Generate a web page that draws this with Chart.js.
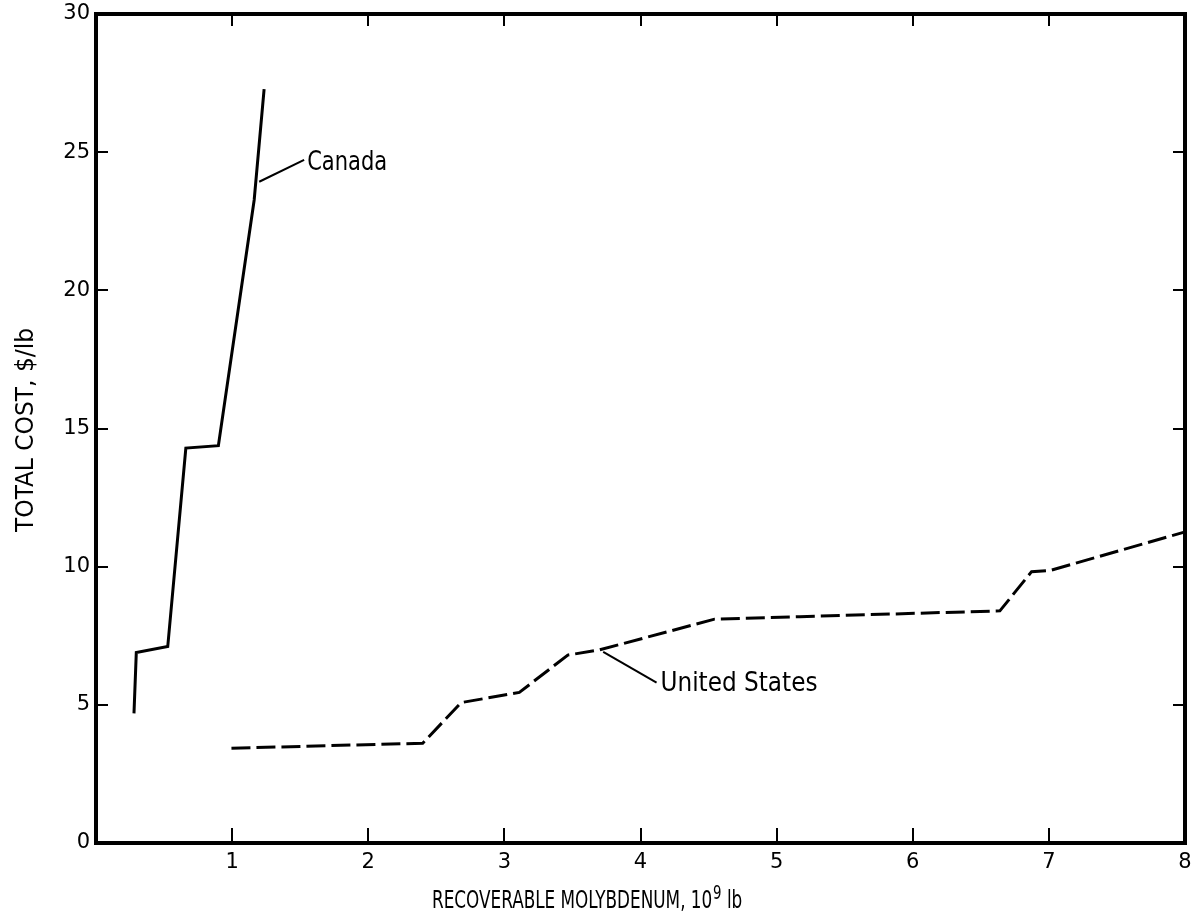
<!DOCTYPE html>
<html>
<head>
<meta charset="utf-8">
<script src="https://cdn.jsdelivr.net/npm/chart.js@4.4.1/dist/chart.umd.min.js"></script>
<style>
html,body{margin:0;padding:0;background:#fff;}
canvas{display:block;}
</style>
</head>
<body>
<canvas id="c" width="1192" height="913"></canvas>
<script>
// Cumulative recoverable molybdenum (10^9 lb) against total cost ($/lb)
const canadaX = [0.279, 0.296, 0.527, 0.660, 0.899, 1.162, 1.235];
const canadaY = [4.69, 6.89, 7.11, 14.29, 14.38, 23.27, 27.28];
const usX = [0.995, 2.40, 2.682, 3.11, 3.466, 3.70, 4.544, 5.17, 6.64, 6.873, 7.007, 7.995];
const usY = [3.43, 3.61, 5.08, 5.45, 6.80, 6.99, 8.10, 8.19, 8.40, 9.82, 9.86, 11.25];
const xTickValues = [1, 2, 3, 4, 5, 6, 7, 8];
const yTickValues = [0, 5, 10, 15, 20, 25, 30];
const seriesNames = ['Canada', 'United States'];
const xTitleParts = ['RECOVERABLE MOLYBDENUM, 10', '9', ' lb'];
const yTitle = 'TOTAL COST, $/lb';

const toPoints = (xs, ys) => xs.map((x, i) => ({ x: x, y: ys[i] }));

const LETTER_FONT = '"DejaVu Sans Condensed", "DejaVu Sans", sans-serif';
const TICK_FONT = '"DejaVu Sans", sans-serif';

// Callout leader lines and their captions, in data units
const callouts = [
  { name: seriesNames[0], from: [1.199, 23.93], to: [1.529, 24.72], at: [1.551, 24.36], width: 80 },
  { name: seriesNames[1], from: [3.726, 6.92], to: [4.118, 5.80], at: [4.147, 5.50], width: 157 }
];

// Draw text squeezed horizontally to a given width
function squeezeText(ctx, str, width) {
  const w = ctx.measureText(str).width;
  ctx.scale(width / w, 1);
  ctx.fillText(str, 0, 0);
}

const framePlugin = {
  id: 'frame',
  afterDraw(chart) {
    const { ctx, chartArea: a, scales } = chart;
    const xs = scales.x, ys = scales.y;
    ctx.save();
    ctx.strokeStyle = '#000';
    ctx.fillStyle = '#000';
    ctx.lineCap = 'butt';

    // Inward tick marks on all four sides
    ctx.lineWidth = 2;
    ctx.beginPath();
    xs.ticks.forEach(t => {
      if (t.value <= xs.min || t.value >= xs.max) return;
      const px = Math.round(xs.getPixelForValue(t.value));
      ctx.moveTo(px, a.bottom); ctx.lineTo(px, a.bottom - 15);
      ctx.moveTo(px, a.top); ctx.lineTo(px, a.top + 12);
    });
    ys.ticks.forEach(t => {
      if (t.value <= ys.min || t.value >= ys.max) return;
      const py = Math.round(ys.getPixelForValue(t.value));
      ctx.moveTo(a.left, py); ctx.lineTo(a.left + 12, py);
      ctx.moveTo(a.right, py); ctx.lineTo(a.right - 12, py);
    });
    ctx.stroke();

    // Heavy box round the plot
    ctx.lineWidth = 4;
    ctx.lineJoin = 'miter';
    ctx.strokeRect(a.left, a.top, a.right - a.left, a.bottom - a.top);

    // Callouts
    ctx.lineWidth = 2;
    ctx.font = '26px ' + LETTER_FONT;
    ctx.textBaseline = 'alphabetic';
    ctx.textAlign = 'left';
    callouts.forEach(c => {
      ctx.beginPath();
      ctx.moveTo(xs.getPixelForValue(c.from[0]), ys.getPixelForValue(c.from[1]));
      ctx.lineTo(xs.getPixelForValue(c.to[0]), ys.getPixelForValue(c.to[1]));
      ctx.stroke();
      ctx.save();
      ctx.translate(xs.getPixelForValue(c.at[0]), ys.getPixelForValue(c.at[1]));
      squeezeText(ctx, c.name, c.width);
      ctx.restore();
    });

    // X axis title with raised exponent
    const squeeze = 0.78;
    ctx.save();
    ctx.translate(432, 908);
    ctx.scale(squeeze, 1);
    ctx.font = '24px ' + LETTER_FONT;
    ctx.fillText(xTitleParts[0], 0, 0);
    let cx = ctx.measureText(xTitleParts[0]).width + 1;
    ctx.font = '19px ' + LETTER_FONT;
    ctx.fillText(xTitleParts[1], cx, -9);
    cx += ctx.measureText(xTitleParts[1]).width;
    ctx.font = '24px ' + LETTER_FONT;
    ctx.fillText(xTitleParts[2], cx, 0);
    ctx.restore();

    // Y axis title, reading upwards
    ctx.font = '24px ' + LETTER_FONT;
    ctx.save();
    ctx.translate(33, 532);
    ctx.rotate(-Math.PI / 2);
    squeezeText(ctx, yTitle, 204);
    ctx.restore();

    ctx.restore();
  }
};

new Chart(document.getElementById('c'), {
  type: 'line',
  data: {
    datasets: [
      {
        label: seriesNames[0],
        data: toPoints(canadaX, canadaY),
        borderColor: '#000',
        borderWidth: 3,
        pointRadius: 0,
        tension: 0,
        borderJoinStyle: 'miter',
        fill: false
      },
      {
        label: seriesNames[1],
        data: toPoints(usX, usY),
        borderColor: '#000',
        borderWidth: 3,
        borderDash: [19, 6],
        pointRadius: 0,
        tension: 0,
        borderJoinStyle: 'miter',
        fill: false
      }
    ]
  },
  options: {
    responsive: false,
    animation: false,
    devicePixelRatio: 1,
    layout: { padding: { top: 14, right: 7, left: 0, bottom: 0 } },
    plugins: { legend: { display: false }, tooltip: { enabled: false } },
    scales: {
      x: {
        type: 'linear',
        min: 0,
        max: 8,
        afterBuildTicks: s => { s.ticks = xTickValues.map(v => ({ value: v })); },
        afterFit: s => { s.height = 70; s.paddingLeft = 0; s.paddingRight = 0; },
        grid: { display: false, drawTicks: false },
        border: { display: false },
        ticks: {
          color: '#000',
          padding: 7,
          maxRotation: 0,
          font: { family: TICK_FONT, size: 21 }
        }
      },
      y: {
        type: 'linear',
        min: 0,
        max: 30,
        afterBuildTicks: s => { s.ticks = yTickValues.map(v => ({ value: v })); },
        afterFit: s => { s.width = 96; s.paddingTop = 0; s.paddingBottom = 0; },
        grid: { display: false, drawTicks: false },
        border: { display: false },
        ticks: {
          color: '#000',
          padding: 6,
          font: { family: TICK_FONT, size: 21 }
        }
      }
    }
  },
  plugins: [framePlugin]
});
</script>
</body>
</html>
